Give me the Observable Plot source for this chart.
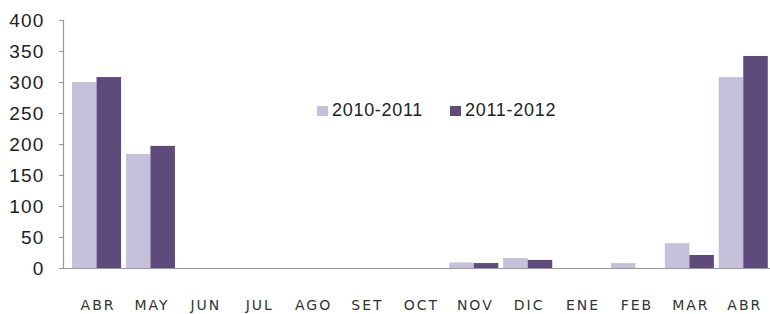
<!DOCTYPE html>
<html>
<head>
<meta charset="utf-8">
<script src="https://cdn.jsdelivr.net/npm/d3@7"></script>
<script src="https://cdn.jsdelivr.net/npm/@observablehq/plot@0.6"></script>
<style>
  html, body { margin: 0; padding: 0; background: #fff; }
  #wrap { position: relative; width: 770px; height: 314px; }
  #legend { position: absolute; left: 317px; top: 100px; display: flex; gap: 27px;
    font-family: "Liberation Sans", Arial, sans-serif; font-size: 18px; letter-spacing: 0.7px; color: #222; }
  #legend .item { display: flex; align-items: center; }
  #legend .sw { width: 11px; height: 10px; margin-right: 4px; }
  g[aria-label="x-axis tick label"] text { letter-spacing: 2px; }
  g[aria-label="y-axis tick label"] text { letter-spacing: 1.2px; }
</style>
</head>
<body>
<div id="wrap"></div>
<script>
const months = ["ABR","MAY","JUN","JUL","AGO","SET","OCT","NOV","DIC","ENE","FEB","MAR","ABR"];
const series = ["2010-2011","2011-2012"];
const values2010 = [300,184,0,0,0,0,0,9,16,0,8,40,308];
const values2011 = [308,197,0,0,0,0,0,8,13,0,0,21,342];
const yTicks = [0,50,100,150,200,250,300,350,400];
const colors = ["#c7c0da","#5f4a7c"];

const idx = d3.range(months.length);
const rows2010 = idx.map(i => ({i, series: series[0], value: values2010[i]}));
const rows2011 = idx.map(i => ({i, series: series[1], value: values2011[i]}));

const xOptions = {type: "band", domain: idx, range: [69.6, 770.2], paddingInner: 0.09, paddingOuter: 0.045, round: false};
const half = Plot.scale({x: xOptions}).bandwidth / 2;

const chart = Plot.plot({
  width: 770,
  height: 314,
  marginLeft: 63,
  marginRight: 0,
  marginTop: 20,
  marginBottom: 46,
  x: {...xOptions, axis: null},
  y: {domain: [0, 400], axis: null},
  color: {domain: series, range: colors},
  marks: [
    Plot.barY(rows2010, {x: "i", y: "value", fill: "series", insetRight: half}),
    Plot.barY(rows2011, {x: "i", y: "value", fill: "series", insetLeft: half}),
    Plot.ruleY([0], {stroke: "#999", strokeWidth: 1.2}),
    Plot.frame({anchor: "left", stroke: "#999", strokeWidth: 1.2}),
    Plot.axisY(yTicks, {anchor: "left", tickSize: 4, tickPadding: 15, stroke: "#999",
      fontSize: 19, fontFamily: "Liberation Sans, Arial, sans-serif", fill: "#222", label: null}),
    Plot.axisX(idx, {anchor: "bottom", tickSize: 0, tickPadding: 32, dx: 1, tickFormat: i => months[i], fontSize: 14,
      fontFamily: "DejaVu Sans, Verdana, sans-serif", fill: "#333", label: null})
  ]
});

const wrap = document.getElementById("wrap");
wrap.appendChild(chart);

const legend = document.createElement("div");
legend.id = "legend";
series.forEach((s, k) => {
  const item = document.createElement("div");
  item.className = "item";
  const sw = document.createElement("span");
  sw.className = "sw";
  sw.style.background = colors[k];
  const t = document.createElement("span");
  t.textContent = s;
  item.appendChild(sw);
  item.appendChild(t);
  legend.appendChild(item);
});
wrap.appendChild(legend);
</script>
</body>
</html>
